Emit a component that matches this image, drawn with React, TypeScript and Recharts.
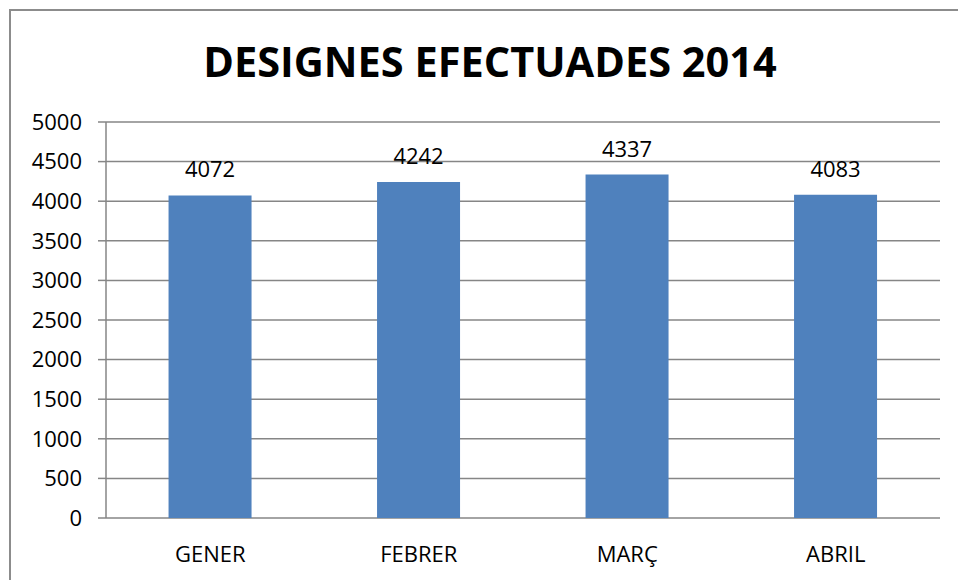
import { BarChart, Bar, XAxis, YAxis, CartesianGrid, LabelList } from 'recharts';

const months = ['GENER', 'FEBRER', 'MARÇ', 'ABRIL'];
const designes = [4072, 4242, 4337, 4083];
const yTicks = [0, 500, 1000, 1500, 2000, 2500, 3000, 3500, 4000, 4500, 5000];
const monthEdges = [0, 1, 2, 3, 4];

const data = months.map((m, i) => ({ name: m, value: designes[i], pos: i + 0.5 }));

const font = '"Open Sans", sans-serif';
const gridColor = '#868686';

export default function App() {
  return (
    <div style={{ position: 'absolute', left: 0, top: 0, width: 958, height: 580, overflow: 'hidden', background: '#fff', fontFamily: font }}>
      {/* outer frame of the chart */}
      <div style={{ position: 'absolute', left: 9, top: 9, width: 980, height: 600, border: '2px solid #8c8c8c' }} />
      <div style={{ position: 'absolute', left: 0, top: 31, width: 980, textAlign: 'center', fontSize: 41.5, fontWeight: 700, color: '#000', lineHeight: '60px' }}>
        DESIGNES EFECTUADES 2014
      </div>
      <BarChart
        width={958}
        height={580}
        data={data}
        margin={{ top: 122, right: 18, left: 0, bottom: 18 }}
        barCategoryGap="30%"
        style={{ position: 'absolute', left: 0, top: 0 }}
      >
        <CartesianGrid vertical={false} stroke={gridColor} strokeWidth={1.5} xAxisId="c" />
        <XAxis
          xAxisId="n"
          type="number"
          dataKey="pos"
          domain={[0, 4]}
          ticks={monthEdges}
          tick={false}
          tickSize={8}
          height={0}
          axisLine={{ stroke: gridColor, strokeWidth: 1.5 }}
          tickLine={{ stroke: gridColor, strokeWidth: 1.5 }}
        />
        <XAxis
          xAxisId="c"
          dataKey="name"
          axisLine={false}
          tickLine={false}
          height={44}
          tick={{ fill: '#000', fontSize: 22, fontFamily: font }}
          tickMargin={22}
        />
        <YAxis
          domain={[0, 5000]}
          ticks={yTicks}
          width={106}
          tickSize={8}
          tickMargin={16}
          axisLine={{ stroke: gridColor, strokeWidth: 1.5 }}
          tickLine={{ stroke: gridColor, strokeWidth: 1.5 }}
          tick={{ fill: '#000', fontSize: 22, fontFamily: font }}
        />
        <Bar dataKey="value" xAxisId="c" fill="#4F81BD" isAnimationActive={false}>
          <LabelList dataKey="value" position="top" offset={18} fill="#000" fontSize={22} fontFamily={font} />
        </Bar>
      </BarChart>
    </div>
  );
}
